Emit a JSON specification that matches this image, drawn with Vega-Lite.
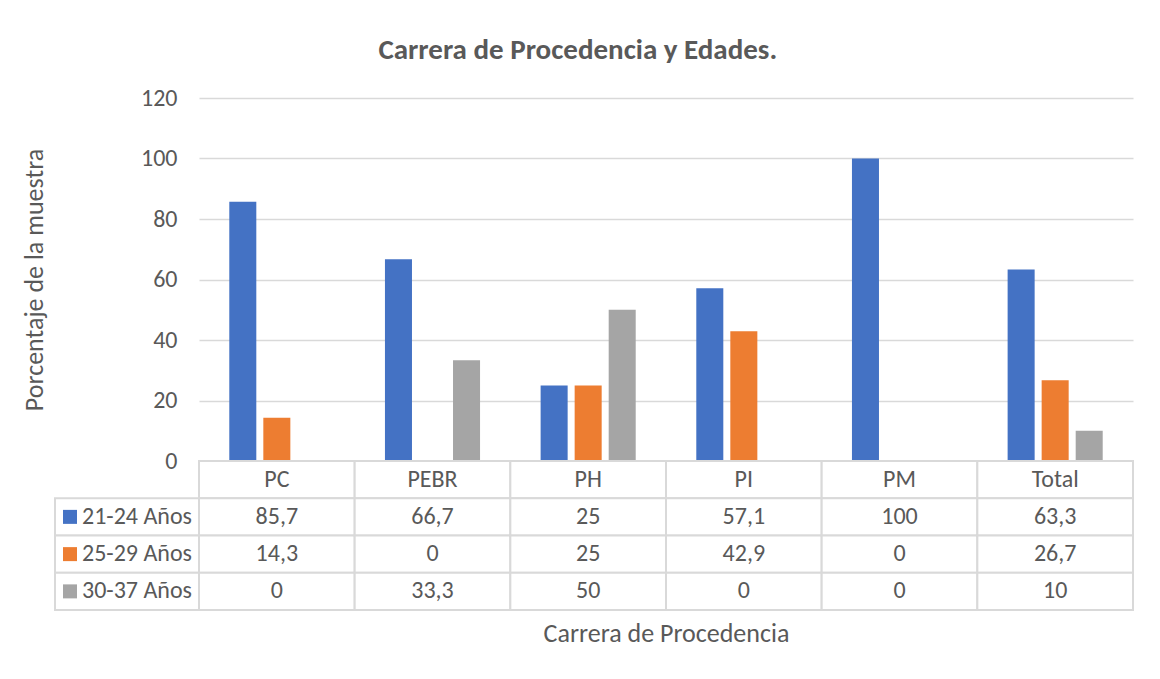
{
  "$schema": "https://vega.github.io/schema/vega-lite/v6.json",
  "padding": {"left": 21, "top": 36, "right": 27, "bottom": 24},
  "background": "white",
  "title": {"text": "Carrera de Procedencia y Edades.", "fontSize": 29, "fontWeight": "bold", "color": "#595959", "anchor": "middle", "offset": 21},
  "config": {
    "view": {"stroke": null},
    "font": "Carlito, Calibri, Lato, sans-serif",
    "locale": {"number": {"decimal": ",", "thousands": ".", "grouping": [3], "currency": ["", " €"]}}
  },
  "datasets": {
    "d": [
      {"carrera": "PC", "grupo": "21-24 Años", "valor": 85.7},
      {"carrera": "PC", "grupo": "25-29 Años", "valor": 14.3},
      {"carrera": "PC", "grupo": "30-37 Años", "valor": 0},
      {"carrera": "PEBR", "grupo": "21-24 Años", "valor": 66.7},
      {"carrera": "PEBR", "grupo": "25-29 Años", "valor": 0},
      {"carrera": "PEBR", "grupo": "30-37 Años", "valor": 33.3},
      {"carrera": "PH", "grupo": "21-24 Años", "valor": 25},
      {"carrera": "PH", "grupo": "25-29 Años", "valor": 25},
      {"carrera": "PH", "grupo": "30-37 Años", "valor": 50},
      {"carrera": "PI", "grupo": "21-24 Años", "valor": 57.1},
      {"carrera": "PI", "grupo": "25-29 Años", "valor": 42.9},
      {"carrera": "PI", "grupo": "30-37 Años", "valor": 0},
      {"carrera": "PM", "grupo": "21-24 Años", "valor": 100},
      {"carrera": "PM", "grupo": "25-29 Años", "valor": 0},
      {"carrera": "PM", "grupo": "30-37 Años", "valor": 0},
      {"carrera": "Total", "grupo": "21-24 Años", "valor": 63.3},
      {"carrera": "Total", "grupo": "25-29 Años", "valor": 26.7},
      {"carrera": "Total", "grupo": "30-37 Años", "valor": 10}
    ]
  },
  "bounds": "flush",
  "spacing": 0,
  "columns": 2,
  "concat": [
    {
      "width": 144,
      "height": 363,
      "data": {"values": [{"a": 1}]},
      "mark": {"type": "text"},
      "encoding": {"text": {"value": ""}}
    },
    {
      "width": 934,
      "height": 363,
      "data": {"name": "d"},
      "mark": {"type": "bar"},
      "encoding": {
        "x": {"field": "carrera", "type": "nominal", "scale": {"domain": ["PC", "PEBR", "PH", "PI", "PM", "Total"], "paddingInner": 0, "paddingOuter": 0}, "axis": null},
        "xOffset": {"field": "grupo", "type": "nominal", "scale": {"domain": ["21-24 Años", "25-29 Años", "30-37 Años"], "paddingInner": 0.206, "paddingOuter": 0.89}},
        "y": {
          "field": "valor", "type": "quantitative",
          "scale": {"domain": [0, 120]},
          "axis": {
            "values": [0, 20, 40, 60, 80, 100, 120],
            "grid": true, "gridColor": "#d9d9d9", "gridWidth": 1.5,
            "domain": false, "ticks": false,
            "labelPadding": 22, "labelFontSize": 24, "labelColor": "#595959",
            "title": "Porcentaje de la muestra", "titleFontSize": 26, "titleFontWeight": "normal", "titleColor": "#595959", "titlePadding": 93
          }
        },
        "color": {"field": "grupo", "type": "nominal", "scale": {"domain": ["21-24 Años", "25-29 Años", "30-37 Años"], "range": ["#4472C4", "#ED7D31", "#A5A5A5"]}, "legend": null}
      }
    },
    {
      "width": 144,
      "height": 149,
      "data": {"name": "d"},
      "transform": [{"filter": "datum.carrera === 'PC'"}],
      "encoding": {
        "y": {"field": "grupo", "type": "nominal", "scale": {"domain": ["hdr", "21-24 Años", "25-29 Años", "30-37 Años"], "paddingInner": 0, "paddingOuter": 0}, "axis": null}
      },
      "layer": [
        {"mark": {"type": "rect", "fill": "white", "stroke": "#d9d9d9", "strokeWidth": 2}},
        {
          "mark": {"type": "square", "size": 196, "filled": true, "opacity": 1, "x": 15},
          "encoding": {"color": {"field": "grupo", "type": "nominal", "scale": {"domain": ["21-24 Años", "25-29 Años", "30-37 Años"], "range": ["#4472C4", "#ED7D31", "#A5A5A5"]}, "legend": null}}
        },
        {
          "mark": {"type": "text", "align": "left", "x": 27, "fontSize": 24, "color": "#595959"},
          "encoding": {"text": {"field": "grupo", "type": "nominal"}}
        }
      ]
    },
    {
      "width": 934,
      "height": 149,
      "data": {"name": "d"},
      "encoding": {
        "x": {
          "field": "carrera", "type": "nominal",
          "scale": {"domain": ["PC", "PEBR", "PH", "PI", "PM", "Total"], "paddingInner": 0, "paddingOuter": 0},
          "axis": {"orient": "bottom", "labels": false, "ticks": false, "domain": false, "title": "Carrera de Procedencia", "titleFontSize": 26, "titleFontWeight": "normal", "titleColor": "#595959", "titlePadding": 10}
        }
      },
      "layer": [
        {
          "transform": [{"filter": "datum.grupo === '21-24 Años'"}],
          "mark": {"type": "rect", "fill": "white", "stroke": "#d9d9d9", "strokeWidth": 2},
          "encoding": {"y": {"datum": "hdr", "type": "nominal", "scale": {"domain": ["hdr", "21-24 Años", "25-29 Años", "30-37 Años"], "paddingInner": 0, "paddingOuter": 0}, "axis": null}}
        },
        {
          "transform": [{"filter": "datum.grupo === '21-24 Años'"}],
          "mark": {"type": "text", "fontSize": 24, "color": "#595959"},
          "encoding": {
            "y": {"datum": "hdr", "type": "nominal", "axis": null},
            "text": {"field": "carrera", "type": "nominal"}
          }
        },
        {
          "mark": {"type": "rect", "fill": "white", "stroke": "#d9d9d9", "strokeWidth": 2},
          "encoding": {"y": {"field": "grupo", "type": "nominal", "axis": null}}
        },
        {
          "mark": {"type": "text", "fontSize": 24, "color": "#595959"},
          "encoding": {
            "y": {"field": "grupo", "type": "nominal", "axis": null},
            "text": {"field": "valor", "type": "quantitative", "format": ".1~f"}
          }
        }
      ]
    }
  ]
}
